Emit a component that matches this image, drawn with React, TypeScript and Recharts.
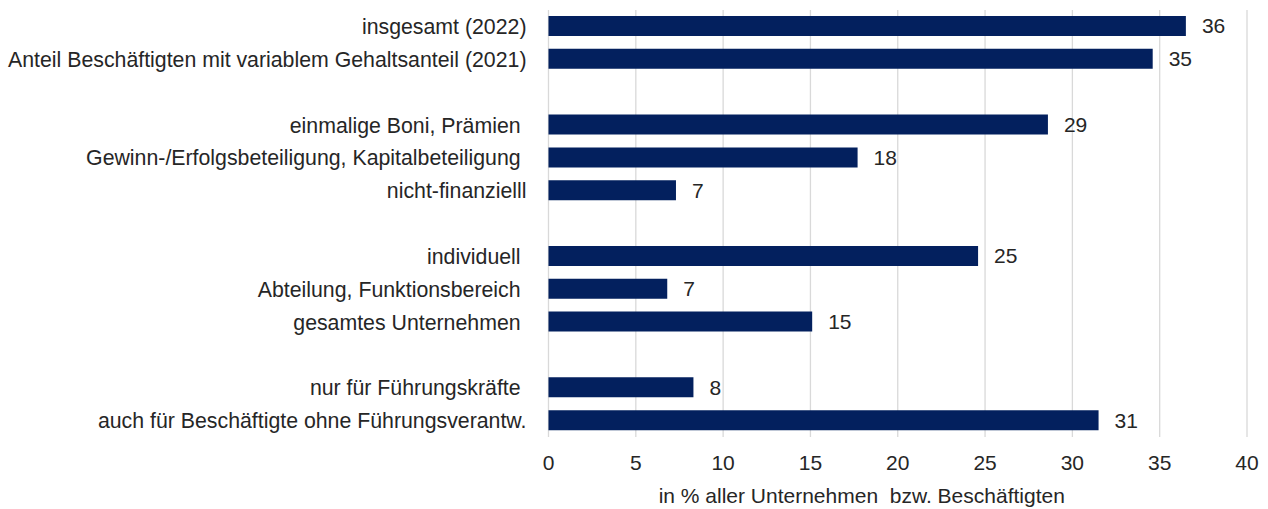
import React from "react";
import { BarChart, Bar, XAxis, YAxis, CartesianGrid, LabelList } from "recharts";

const categories = [
  "insgesamt (2022)",
  "Anteil Beschäftigten mit variablem Gehaltsanteil (2021)",
  "",
  "einmalige Boni, Prämien\u00A0",
  "Gewinn-/Erfolgsbeteiligung, Kapitalbeteiligung\u00A0",
  "nicht-finanzielll",
  "",
  "individuell\u00A0",
  "Abteilung, Funktionsbereich\u00A0",
  "gesamtes Unternehmen\u00A0",
  "",
  "nur für Führungskräfte\u00A0",
  "auch für Beschäftigte ohne Führungsverantw.",
];
const values: (number | null)[] = [36.5, 34.6, null, 28.6, 17.7, 7.3, null, 24.6, 6.8, 15.1, null, 8.3, 31.5];
const valueLabels = ["36", "35", "", "29", "18", "7", "", "25", "7", "15", "", "8", "31"];
const xTicks = [0, 5, 10, 15, 20, 25, 30, 35, 40];
const xTitle = "in % aller Unternehmen\u00A0 bzw. Beschäftigten";

const data = categories.map((c, i) => ({
  id: "r" + i,
  cat: c,
  value: values[i],
  label: valueLabels[i],
}));

const FONT = "'Liberation Sans', Arial, sans-serif";
const TXT = "#262626";
const FS = 21;

export default function App() {
  return (
    <div style={{ position: "absolute", left: 0, top: 0, background: "#fff" }}>
      <BarChart
        width={1268}
        height={509}
        data={data}
        layout="vertical"
        margin={{ top: 10, right: 21, bottom: 0, left: 0 }}
        style={{ fontFamily: FONT }}
      >
        <CartesianGrid horizontal={false} vertical={true} stroke="#d9d9d9" strokeWidth={1.3} />
        <XAxis
          type="number"
          domain={[0, 40]}
          ticks={xTicks}
          axisLine={false}
          tickLine={false}
          height={72}
          tick={{ fill: TXT, fontSize: FS, fontFamily: FONT }}
          tickMargin={12}
          label={{
            value: xTitle,
            position: "insideBottom",
            offset: 6,
            dx: -36,
            fill: TXT,
            fontSize: FS,
            fontFamily: FONT,
          }}
        />
        <YAxis
          type="category"
          dataKey="id"
          width={548.5}
          axisLine={false}
          tickLine={false}
          interval={0}
          tickMargin={16}
          tickFormatter={(v: string) => data.find((d) => d.id === v)?.cat ?? ""}
          tick={{ fill: TXT, fontSize: 21.3, fontFamily: FONT }}
        />
        <Bar dataKey="value" fill="#03205E" barSize={20} isAnimationActive={false}>
          <LabelList dataKey="label" position="right" offset={16} fill={TXT} fontSize={FS} fontFamily={FONT} />
        </Bar>
      </BarChart>
    </div>
  );
}
